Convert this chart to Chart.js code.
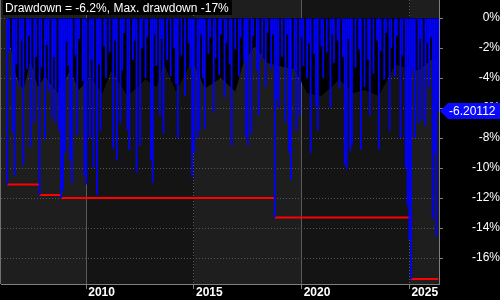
<!DOCTYPE html>
<html lang="en">
<head>
  <meta charset="UTF-8" />
  <title>Drawdown</title>
  <script src="https://cdn.jsdelivr.net/npm/chart.js"></script>
  <style>
    html, body { margin: 0; padding: 0; background: #000; }
  </style>
</head>
<body>
  <canvas id="ddChart" width="500" height="300"></canvas>

  <script>
    // monthly categories, Feb 2006 .. May 2026
    const months = [];
    for (let i = 0; i < 244; i++) {
      const y = 2006 + Math.floor((i + 1) / 12);
      const m = ((i + 1) % 12) + 1;
      months.push(y + "-" + String(m).padStart(2, "0"));
    }

    // drawdown in %, one value per month
    const drawdown = [
      null, null, null, -11.1, -2.2, 0, -7.6, -10.5, -3.1, -0.1, -4.6,          // 2006
      -1.5, -9.8, 0, -3.4, -1.2, -8.6, 0, -7.0, -2.6, -0.1, -11.8, -3.3,        // 2007
      0, -8.1, -1.8, -4.9, -0.1, -6.7, -2.6, -7.0, 0, -7.5, -12.0, -11.5,       // 2008
      -9.0, -1.6, -3.2, -9.5, -11.0, 0, -2.5, -7.8, -1.4, 0, -4.2, -10.5,       // 2009
      -11.1, 0, -8.0, -2.8, -10.0, -0.1, -11.8, -3.1, -7.5, 0, -1.9, -4.0,      // 2010
      0, -2.3, -0.1, -8.7, -1.5, -9.5, 0, -7.0, -3.5, -1.0, 0, -7.5,            // 2011
      -8.8, 0, -2.8, -1.5, -10.3, 0, -8.5, -2.0, -0.1, -4.0, -1.3, 0,           // 2012
      -9.5, -11.0, -1.1, -3.2, 0, -6.5, -1.4, -7.7, 0, -2.8, -0.1, -3.9,        // 2013
      0, -2.0, -4.4, -8.0, -0.1, -2.5, 0, -5.2, 0, -1.7, -3.3, -10.6,           // 2014
      -9.0, 0, -8.0, -7.5, -1.1, -4.0, -7.4, 0, -2.4, -1.3, 0, -6.3,            // 2015
      -2.7, 0, -3.8, -1.1, -0.1, -5.3, -1.7, 0, -3.1, -8.5, 0, -2.1,            // 2016
      0, -3.9, -1.3, 0, -2.9, -7.9, -8.5, -0.1, -7.7, -1.2, 0, -3.5,            // 2017
      -6.5, 0, -2.8, -0.1, -4.6, -1.0, 0, -3.4, -1.1, -13.3, -5.4, -6.0,        // 2018
      0, -2.6, -0.1, -7.0, -1.1, -9.0, -10.8, 0, -3.5, -7.5, 0, -6.5,           // 2019
      -1.3, -3.2, 0, -4.0, -1.7, -9.0, 0, -2.4, -5.9, -7.5, -0.1, -1.9,         // 2020
      -4.0, 0, -2.3, 0, -6.0, -1.1, -3.0, 0, -1.5, -4.7, -0.1, -2.6,            // 2021
      -9.8, -10.1, -1.4, -8.9, -8.5, 0, -3.3, -0.1, -2.1, -8.8, 0, -4.6,        // 2022
      0, -2.8, -6.5, 0, -3.7, 0, -1.5, -8.8, -2.2, 0, -4.1, -1.0,               // 2023
      0, -7.5, -2.0, 0, -3.9, -1.2, 0, -8.0, -2.5, -0.1, -10.0, -12.5,          // 2024
      -14.8, -17.4, -3.5, -8.0, -0.1, -7.0, -1.4, -6.8, 0, -7.2, -1.7, -4.6,    // 2025
      -1.3, -13.4, -9.0, -14.6, -6.20112                                        // 2026
    ];

    // running max drawdown: each level with the months it spans
    const maxDdStart  = ["2006-05", "2007-11", "2008-11", "2018-10", "2025-02"];
    const maxDdEnd    = ["2007-11", "2008-11", "2018-10", "2025-02", "2026-05"];
    const maxDdValues = [-11.1, -11.8, -12.0, -13.3, -17.4];

    // dark shadow area behind the bars
    const shadeDates = ["2006-05", "2006-07", "2006-10", "2007-02", "2007-06", "2007-10", "2008-02",
      "2008-09", "2009-04", "2009-09", "2010-03", "2010-10", "2011-03", "2011-12", "2012-10",
      "2013-04", "2013-08", "2014-03", "2014-12", "2015-07", "2016-04", "2016-12", "2017-05",
      "2017-11", "2018-06", "2019-04", "2019-09", "2020-04", "2020-12", "2021-10", "2022-06",
      "2022-12", "2023-08", "2024-05", "2024-11", "2025-06", "2026-01", "2026-05"];
    const shadeValues = [-1.6, -2.0, -3.9, -4.8, -2.8, -4.6, -3.9,
      -5.0, -3.5, -4.8, -3.9, -5.0, -3.5, -5.2, -4.1,
      -4.6, -3.0, -4.9, -2.8, -4.7, -4.0, -4.9, -2.8,
      -1.9, -3.0, -3.3, -3.4, -5.0, -5.2, -4.1, -5.0,
      -4.8, -5.2, -3.1, -3.3, -3.5, -2.8, -2.8];

    const yTicks = [0, -2, -4, -6, -8, -10, -12, -14, -16];
    const yearTicks = ["2010", "2015", "2020", "2025"];
    const currentValue = -6.20112;
    const titleText = "Drawdown = -6.2%, Max. drawdown -17%";

    function yearAt(idx) {
      const lab = months[idx];
      if (!lab || !lab.endsWith("-01")) return null;
      const y = lab.slice(0, 4);
      return yearTicks.includes(y) ? y : null;
    }

    // horizontal segments with a gap between levels
    const maxDdPoints = [];
    maxDdValues.forEach((v, i) => {
      maxDdPoints.push({ x: maxDdStart[i], y: v }, { x: maxDdEnd[i], y: v }, { x: maxDdEnd[i], y: null });
    });

    const bandsPlugin = {
      id: "bands",
      beforeDraw(chart) {
        const { ctx, chartArea: a, scales: { x } } = chart;
        ctx.save();
        ctx.fillStyle = "#000";
        ctx.fillRect(0, 0, chart.width, chart.height);
        const edges = [a.left];
        yearTicks.forEach(y => edges.push(x.getPixelForValue(months.indexOf(y + "-01"))));
        edges.push(a.right);
        for (let i = 0; i < edges.length - 1; i++) {
          ctx.fillStyle = i % 2 === 0 ? "#1e1e1e" : "#141414";
          ctx.fillRect(edges[i], a.top, edges[i + 1] - edges[i], a.bottom - a.top);
        }
        ctx.restore();
      },
      afterDraw(chart) {
        const { ctx, chartArea: a, scales: { y } } = chart;
        ctx.save();
        // left frame
        ctx.fillStyle = "#707070";
        ctx.fillRect(0, 0, 1, a.bottom);
        // title
        ctx.fillStyle = "#000";
        ctx.fillRect(3, 0, 229, 15);
        ctx.fillStyle = "#fff";
        ctx.font = "12px Arial";
        ctx.textBaseline = "alphabetic";
        ctx.fillText(titleText, 5, 12);
        // current value marker
        const py = Math.round(y.getPixelForValue(currentValue));
        const x0 = a.right + 1;
        ctx.fillStyle = "#0a0aff";
        ctx.beginPath();
        ctx.moveTo(x0, py);
        ctx.lineTo(x0 + 8, py - 8);
        ctx.lineTo(chart.width, py - 8);
        ctx.lineTo(chart.width, py + 8);
        ctx.lineTo(x0 + 8, py + 8);
        ctx.closePath();
        ctx.fill();
        ctx.fillStyle = "#fff";
        ctx.textBaseline = "middle";
        ctx.fillText(currentValue.toFixed(5), x0 + 9, py + 1);
        ctx.restore();
      }
    };

    const ctx = document.getElementById("ddChart").getContext("2d");
    new Chart(ctx, {
      type: "bar",
      data: {
        labels: months,
        datasets: [
          {
            label: "Drawdown",
            data: drawdown,
            backgroundColor: "#0000ff",
            borderWidth: 0,
            barPercentage: 1,
            categoryPercentage: 1,
            inflateAmount: 0,
            order: 0
          },
          {
            type: "line",
            label: "Max drawdown",
            data: maxDdPoints,
            borderColor: "#ff0000",
            borderWidth: 2,
            spanGaps: false,
            pointRadius: 0,
            fill: false,
            order: 1
          },
          {
            type: "line",
            label: "Shade",
            data: shadeDates.map((d, i) => ({ x: d, y: shadeValues[i] })),
            borderWidth: 0,
            borderColor: "transparent",
            backgroundColor: "#000",
            fill: "origin",
            pointRadius: 0,
            order: 2
          }
        ]
      },
      options: {
        responsive: false,
        animation: false,
        layout: { padding: { left: 1, top: 0, right: 0, bottom: 0 } },
        plugins: {
          legend: { display: false },
          tooltip: { enabled: false }
        },
        scales: {
          x: {
            offset: true,
            grid: {
              offset: false,
              color: c => (c.tick && yearAt(c.tick.value) ? "#5a5a5a" : "transparent"),
              tickColor: c => (c.tick && yearAt(c.tick.value) ? "#808080" : "transparent"),
              tickLength: 5
            },
            border: {
              color: "#808080",
              dash: c => {
                const y = c.tick ? yearAt(c.tick.value) : null;
                return y === "2015" || y === "2025" ? [1, 2] : [];
              }
            },
            ticks: {
              autoSkip: false,
              maxRotation: 0,
              align: "start",
              labelOffset: 2,
              padding: -4,
              color: "#fff",
              font: { family: "Arial", size: 12, weight: "bold" },
              callback: value => yearAt(value)
            },
            afterFit: s => { s.height = 16; s.paddingLeft = 0; s.paddingRight = 0; }
          },
          y: {
            position: "right",
            min: -17.733,
            max: 1.2,
            afterBuildTicks: s => { s.ticks = yTicks.map(v => ({ value: v })); },
            grid: { color: "#555", tickColor: "#808080", tickLength: 4 },
            border: { color: "#808080", dash: [1, 2] },
            ticks: {
              color: "#fff",
              crossAlign: "far",
              padding: 22,
              font: { family: "Arial", size: 12 },
              callback: v => v + "%"
            },
            afterFit: s => { s.width = 61; s.paddingTop = 0; s.paddingBottom = 0; }
          }
        }
      },
      plugins: [bandsPlugin]
    });
  </script>
</body>
</html>
